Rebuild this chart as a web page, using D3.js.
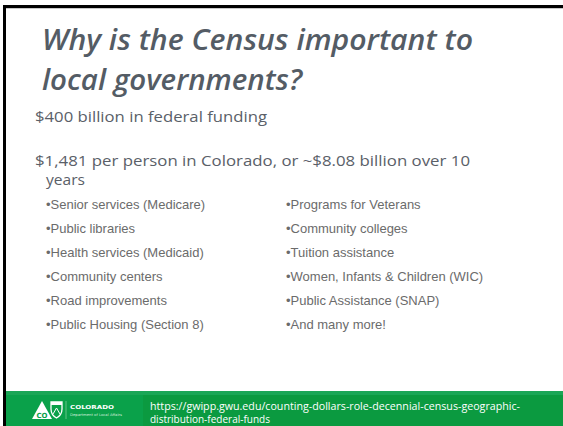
<!DOCTYPE html>
<html>
<head>
<meta charset="utf-8">
<script src="https://cdn.jsdelivr.net/npm/d3@7"></script>
<style>
  html, body { margin: 0; padding: 0; background: #fff; }
  svg { display: block; }
</style>
</head>
<body>
<div id="slide"></div>
<script>
// slide text
const titleLines = ["Why is the Census important to", "local governments?"]
const headlines = ["$400 billion in federal funding",
    "$1,481 per person in Colorado, or ~$8.08 billion over 10", "years"]
const leftItems = ["Senior services (Medicare)", "Public libraries", "Health services (Medicaid)",
    "Community centers", "Road improvements", "Public Housing (Section 8)"]
const rightItems = ["Programs for Veterans", "Community colleges", "Tuition assistance",
    "Women, Infants & Children (WIC)", "Public Assistance (SNAP)", "And many more!"]
const sourceLines = ["https://gwipp.gwu.edu/counting-dollars-role-decennial-census-geographic-",
    "distribution-federal-funds"]

const width = 563
const height = 426
const svg = d3.select("#slide").append("svg")
    .attr("width", width)
    .attr("height", height)

// frame: black line on top and left
svg.append("rect").attr("x", 3).attr("y", 5).attr("width", width - 3).attr("height", 3).attr("fill", "#000")
svg.append("rect").attr("x", 3).attr("y", 8).attr("width", width - 3).attr("height", 1).attr("fill", "#c8c8c8")
svg.append("rect").attr("x", 3).attr("y", 5).attr("width", 3).attr("height", height - 5).attr("fill", "#000")

// fit text to a measured width
function fit(sel, w) {
    sel.attr("textLength", w).attr("lengthAdjust", "spacingAndGlyphs")
}

// title
const titleY = d3.scalePoint().domain(titleLines).range([50, 90])
svg.selectAll("text.title")
    .data(titleLines)
    .enter()
    .append("text")
    .attr("class", "title")
    .attr("x", 42)
    .attr("y", d => titleY(d))
    .attr("font-family", "'Open Sans', sans-serif")
    .attr("font-style", "italic")
    .attr("font-weight", 600)
    .attr("font-size", 28)
    .attr("fill", "#545c65")
    .text(d => d)
    .each(function(d, i) { fit(d3.select(this), i === 0 ? 431 : 260) })

// headline lines
const headY = [122, 166, 185]
const headX = [35, 35, 46]
const headW = [232, 435, 39]
svg.selectAll("text.head")
    .data(headlines)
    .enter()
    .append("text")
    .attr("class", "head")
    .attr("x", (d, i) => headX[i])
    .attr("y", (d, i) => headY[i])
    .attr("font-family", "'Open Sans', sans-serif")
    .attr("font-size", 15)
    .attr("fill", "#5a6068")
    .text(d => d)
    .each(function(d, i) { fit(d3.select(this), headW[i]) })

// bullet columns
const rowY = d3.scalePoint().domain(d3.range(leftItems.length)).range([209, 329])
function drawColumn(items, x, cls) {
    svg.selectAll("text." + cls)
        .data(items)
        .enter()
        .append("text")
        .attr("class", cls)
        .attr("x", x)
        .attr("y", (d, i) => rowY(i))
        .attr("font-family", "'Liberation Sans', Arial, sans-serif")
        .attr("font-size", 13)
        .attr("fill", "#6b6b6b")
        .text(d => "\u2022" + d)
}
drawColumn(leftItems, 46, "left")
drawColumn(rightItems, 286, "right")

// footer band
const footY = 391
svg.append("rect").attr("x", 6).attr("y", footY).attr("width", width - 6).attr("height", height - footY).attr("fill", "#0aa14a")
svg.append("rect").attr("x", 6).attr("y", footY).attr("width", width - 6).attr("height", 4).attr("fill", "#1aa656")
svg.append("rect").attr("x", 143).attr("y", footY + 4).attr("width", width - 143).attr("height", height - footY - 4).attr("fill", "#0b9a40")

// logo
const logo = svg.append("g")
logo.append("path")
    .attr("d", "M32,419 L42,401 L52,419 Z")
    .attr("fill", "#fff")
logo.append("text").attr("x", 42).attr("y", 418).attr("text-anchor", "middle")
    .attr("font-family", "'DejaVu Sans', sans-serif").attr("font-weight", "bold").attr("font-size", 7)
    .attr("fill", "#0aa14a").text("CO")
logo.append("path")
    .attr("d", "M51,402 L62,402 L62,409 Q62,415 56.5,418 Q51,415 51,409 Z")
    .attr("fill", "none").attr("stroke", "#fff").attr("stroke-width", 1.3)
logo.append("rect").attr("x", 51).attr("y", 402).attr("width", 11).attr("height", 3).attr("fill", "#fff")
logo.append("path")
    .attr("d", "M53,414 L56.5,408 L60,414")
    .attr("fill", "none").attr("stroke", "#fff").attr("stroke-width", 1)
logo.append("line").attr("x1", 66).attr("x2", 66).attr("y1", 401).attr("y2", 419)
    .attr("stroke", "#9fd8b0").attr("stroke-width", 0.6)
logo.append("text").attr("x", 70).attr("y", 409)
    .attr("font-family", "'DejaVu Sans', sans-serif").attr("font-size", 5.5).attr("font-weight", "bold")
    .attr("fill", "#fff").text("COLORADO")
    .each(function() { fit(d3.select(this), 44) })
logo.append("text").attr("x", 70).attr("y", 416)
    .attr("font-family", "'DejaVu Sans', sans-serif").attr("font-size", 3.6)
    .attr("fill", "#d8f0df").text("Department of Local Affairs")
    .each(function() { fit(d3.select(this), 52) })

// source url
svg.selectAll("text.src")
    .data(sourceLines)
    .enter()
    .append("text")
    .attr("class", "src")
    .attr("x", 150)
    .attr("y", (d, i) => 410 + i * 12.5)
    .attr("font-family", "'Open Sans', sans-serif")
    .attr("font-size", 10.5)
    .attr("fill", "#fff")
    .text(d => d)
    .each(function(d, i) { fit(d3.select(this), i === 0 ? 370 : 120) })
</script>
</body>
</html>
